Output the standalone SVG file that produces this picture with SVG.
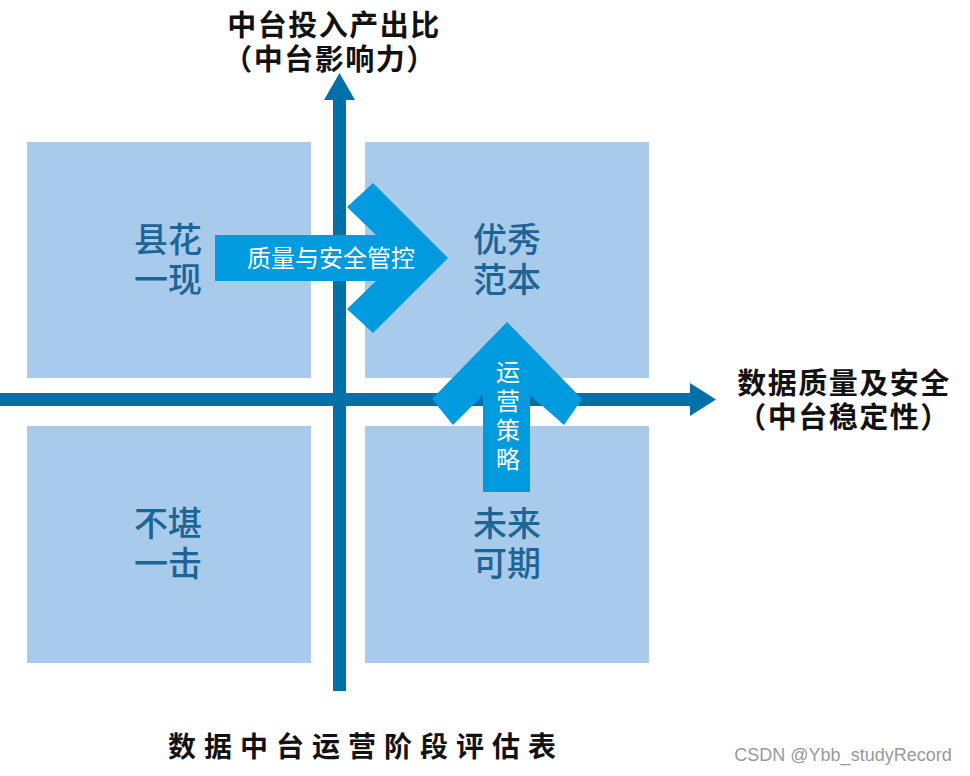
<svg xmlns="http://www.w3.org/2000/svg" width="970" height="776" viewBox="0 0 970 776">
<defs>
<style>
.box{fill:#A8CBEC;}
.axis{fill:#0070A8;}
.big{fill:#009ADE;}
.q{font-family:"Noto Sans CJK SC","Noto Sans",sans-serif;font-size:34px;fill:#1E6496;text-anchor:middle;font-weight:500;}
.t{font-family:"Noto Sans CJK SC","Noto Sans",sans-serif;font-size:29px;fill:#111;font-weight:bold;text-anchor:middle;letter-spacing:1.5px;}
.title{font-family:"Noto Sans CJK SC","Noto Sans",sans-serif;font-size:28px;fill:#111;font-weight:bold;text-anchor:middle;letter-spacing:8px;}
.w{font-family:"Noto Sans CJK SC","Noto Sans",sans-serif;font-size:24px;fill:#fff;text-anchor:middle;}
</style>
</defs>
<rect width="970" height="776" fill="#fff"/>
<g id="quadrants">
<g id="q-tl"><rect class="box" x="27" y="142" width="284" height="236"/><text class="q" x="168" y="252">县花</text><text class="q" x="168" y="292">一现</text></g>
<g id="q-tr"><rect class="box" x="365" y="142" width="284" height="236"/><text class="q" x="507" y="252">优秀</text><text class="q" x="507" y="292">范本</text></g>
<g id="q-bl"><rect class="box" x="27" y="426" width="284" height="237"/><text class="q" x="168" y="536">不堪</text><text class="q" x="168" y="576">一击</text></g>
<g id="q-br"><rect class="box" x="365" y="426" width="284" height="237"/><text class="q" x="507" y="536">未来</text><text class="q" x="507" y="576">可期</text></g>
</g>
<g id="connectors">
<rect class="axis" x="333" y="98" width="13" height="593"/>
<polygon class="axis" points="324,100 339.5,73 355,100"/>
<rect class="axis" x="0" y="393" width="692" height="13"/>
<polygon class="axis" points="690,383 716,399.5 690,416"/>
</g>
<g id="arrow-quality">
<polygon class="big" points="215,235 376,235 347,207 373,183 448,258 373,333 347,309 376,281 215,281"/>
<text class="w" x="331" y="267">质量与安全管控</text>
</g>
<g id="arrow-ops">
<polygon class="big" points="483,492 483,395 453,425 432,399 507,322 582,399 564,425 530,395 530,492"/>
<text class="w" x="508" y="381">运</text>
<text class="w" x="508" y="410">营</text>
<text class="w" x="508" y="439">策</text>
<text class="w" x="508" y="468">略</text>
</g>
<g id="labels">
<text class="t" x="334" y="36">中台投入产出比</text>
<text class="t" x="330" y="70">（中台影响力）</text>
<text class="t" x="844" y="394">数据质量及安全</text>
<text class="t" x="844" y="428">（中台稳定性）</text>
<text class="title" x="366" y="757">数据中台运营阶段评估表</text>
<text x="843" y="761" font-family="'Liberation Sans',Arial,sans-serif" font-size="18" fill="#999" text-anchor="middle">CSDN @Ybb_studyRecord</text>
</g>
</svg>
